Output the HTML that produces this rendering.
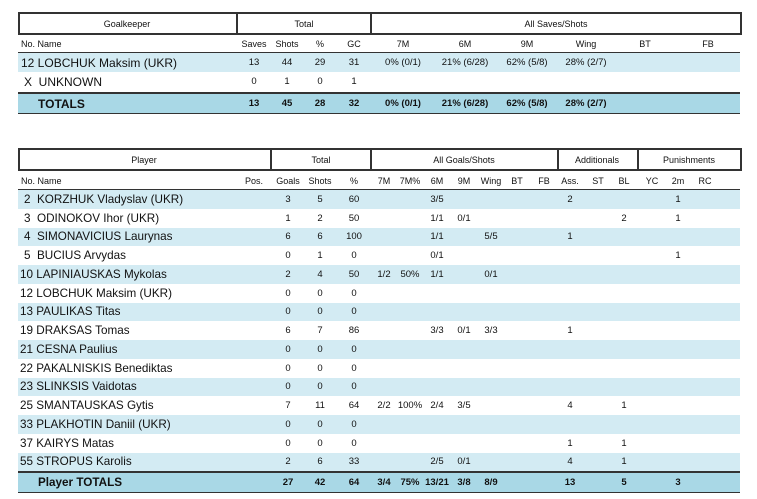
<!DOCTYPE html>
<html><head><meta charset="utf-8"><style>
body{margin:0;background:#fff;width:757px;height:499px;position:relative;overflow:hidden;font-family:"Liberation Sans",Arial,sans-serif;color:#111}
.a{position:absolute}
.c{position:absolute;transform:translateX(-50%);white-space:nowrap}
.hl{position:absolute;background:#333}
.row{position:absolute;left:18px;width:722px}
.row .c,.row .n{top:50%;margin-top:-7px;line-height:14px}
.n{position:absolute;white-space:nowrap;font-size:12px}
.t2 .n{font-size:11.7px}
.s{font-size:9.5px}
.b{font-weight:bold}
.h{font-size:9px;position:absolute;transform:translateX(-50%);white-space:nowrap}
</style></head><body>
<!-- Table 1 -->
<div class="a" style="left:18px;top:12px;width:720px;height:19px;border:2px solid #333;border-bottom-width:2px"></div>
<div class="hl" style="left:236px;top:12px;width:2px;height:21px"></div>
<div class="hl" style="left:370px;top:12px;width:2px;height:21px"></div>
<div class="h" style="left:127px;top:19px">Goalkeeper</div>
<div class="h" style="left:304px;top:19px">Total</div>
<div class="h" style="left:556px;top:19px">All Saves/Shots</div>
<div class="a s" style="left:21px;top:39px;font-size:9px">No. Name</div>
<div class="h" style="left:254px;top:39px">Saves</div><div class="h" style="left:287px;top:39px">Shots</div><div class="h" style="left:320px;top:39px">%</div><div class="h" style="left:354px;top:39px">GC</div>
<div class="h" style="left:403px;top:39px">7M</div><div class="h" style="left:465px;top:39px">6M</div><div class="h" style="left:527px;top:39px">9M</div><div class="h" style="left:586px;top:39px">Wing</div><div class="h" style="left:645px;top:39px">BT</div><div class="h" style="left:708px;top:39px">FB</div>
<div class="hl" style="left:18px;top:52px;width:722px;height:1px"></div>
<div class="row" style="top:53px;height:19px;background:#d3ebf3">
<span class="n" style="left:3px">12 LOBCHUK Maksim (UKR)</span>
<span class="c s" style="left:236px">13</span><span class="c s" style="left:269px">44</span><span class="c s" style="left:302px">29</span><span class="c s" style="left:336px">31</span>
<span class="c s" style="left:385px">0% (0/1)</span><span class="c s" style="left:447px">21% (6/28)</span><span class="c s" style="left:509px">62% (5/8)</span><span class="c s" style="left:568px">28% (2/7)</span></div>
<div class="row" style="top:72px;height:20px">
<span class="n" style="left:6px">X&nbsp; UNKNOWN</span>
<span class="c s" style="left:236px">0</span><span class="c s" style="left:269px">1</span><span class="c s" style="left:302px">0</span><span class="c s" style="left:336px">1</span></div>
<div class="hl" style="left:18px;top:92px;width:722px;height:2px"></div>
<div class="row b" style="top:94px;height:19px;background:#a9d8e6">
<span class="n" style="left:20px">TOTALS</span>
<span class="c s" style="left:236px">13</span><span class="c s" style="left:269px">45</span><span class="c s" style="left:302px">28</span><span class="c s" style="left:336px">32</span>
<span class="c s" style="left:385px">0% (0/1)</span><span class="c s" style="left:447px">21% (6/28)</span><span class="c s" style="left:509px">62% (5/8)</span><span class="c s" style="left:568px">28% (2/7)</span></div>
<div class="hl" style="left:18px;top:113px;width:722px;height:1px"></div>

<!-- Table 2 -->
<div class="t2">
<div class="a" style="left:18px;top:148px;width:720px;height:19px;border:2px solid #333"></div>
<div class="hl" style="left:270px;top:148px;width:2px;height:21px"></div>
<div class="hl" style="left:370px;top:148px;width:2px;height:21px"></div>
<div class="hl" style="left:557px;top:148px;width:2px;height:21px"></div>
<div class="hl" style="left:637px;top:148px;width:2px;height:21px"></div>
<div class="h" style="left:144px;top:155px">Player</div>
<div class="h" style="left:321px;top:155px">Total</div>
<div class="h" style="left:464px;top:155px">All Goals/Shots</div>
<div class="h" style="left:597px;top:155px">Additionals</div>
<div class="h" style="left:689px;top:155px">Punishments</div>
<div class="a" style="left:21px;top:176px;font-size:9px">No. Name</div>
<div class="h" style="left:254px;top:176px">Pos.</div><div class="h" style="left:288px;top:176px">Goals</div><div class="h" style="left:320px;top:176px">Shots</div><div class="h" style="left:354px;top:176px">%</div>
<div class="h" style="left:384px;top:176px">7M</div><div class="h" style="left:410px;top:176px">7M%</div><div class="h" style="left:437px;top:176px">6M</div><div class="h" style="left:464px;top:176px">9M</div><div class="h" style="left:491px;top:176px">Wing</div><div class="h" style="left:517px;top:176px">BT</div><div class="h" style="left:544px;top:176px">FB</div>
<div class="h" style="left:570px;top:176px">Ass.</div><div class="h" style="left:598px;top:176px">ST</div><div class="h" style="left:624px;top:176px">BL</div><div class="h" style="left:652px;top:176px">YC</div><div class="h" style="left:678px;top:176px">2m</div><div class="h" style="left:705px;top:176px">RC</div>
<div class="hl" style="left:18px;top:189px;width:722px;height:1px"></div>

<div class="row" style="top:190px;height:19px;background:#d3ebf3"><span class="n" style="left:6px">2&nbsp; KORZHUK Vladyslav (UKR)</span><span class="c s" style="left:270px">3</span><span class="c s" style="left:302px">5</span><span class="c s" style="left:336px">60</span><span class="c s" style="left:419px">3/5</span><span class="c s" style="left:552px">2</span><span class="c s" style="left:660px">1</span></div>
<div class="row" style="top:209px;height:19px"><span class="n" style="left:6px">3&nbsp; ODINOKOV Ihor (UKR)</span><span class="c s" style="left:270px">1</span><span class="c s" style="left:302px">2</span><span class="c s" style="left:336px">50</span><span class="c s" style="left:419px">1/1</span><span class="c s" style="left:446px">0/1</span><span class="c s" style="left:606px">2</span><span class="c s" style="left:660px">1</span></div>
<div class="row" style="top:228px;height:18px;background:#d3ebf3"><span class="n" style="left:6px">4&nbsp; SIMONAVICIUS Laurynas</span><span class="c s" style="left:270px">6</span><span class="c s" style="left:302px">6</span><span class="c s" style="left:336px">100</span><span class="c s" style="left:419px">1/1</span><span class="c s" style="left:473px">5/5</span><span class="c s" style="left:552px">1</span></div>
<div class="row" style="top:246px;height:19px"><span class="n" style="left:6px">5&nbsp; BUCIUS Arvydas</span><span class="c s" style="left:270px">0</span><span class="c s" style="left:302px">1</span><span class="c s" style="left:336px">0</span><span class="c s" style="left:419px">0/1</span><span class="c s" style="left:660px">1</span></div>
<div class="row" style="top:265px;height:19px;background:#d3ebf3"><span class="n" style="left:2px">10 LAPINIAUSKAS Mykolas</span><span class="c s" style="left:270px">2</span><span class="c s" style="left:302px">4</span><span class="c s" style="left:336px">50</span><span class="c s" style="left:366px">1/2</span><span class="c s" style="left:392px">50%</span><span class="c s" style="left:419px">1/1</span><span class="c s" style="left:473px">0/1</span></div>
<div class="row" style="top:284px;height:19px"><span class="n" style="left:2px">12 LOBCHUK Maksim (UKR)</span><span class="c s" style="left:270px">0</span><span class="c s" style="left:302px">0</span><span class="c s" style="left:336px">0</span></div>
<div class="row" style="top:303px;height:18px;background:#d3ebf3"><span class="n" style="left:2px">13 PAULIKAS Titas</span><span class="c s" style="left:270px">0</span><span class="c s" style="left:302px">0</span><span class="c s" style="left:336px">0</span></div>
<div class="row" style="top:321px;height:19px"><span class="n" style="left:2px">19 DRAKSAS Tomas</span><span class="c s" style="left:270px">6</span><span class="c s" style="left:302px">7</span><span class="c s" style="left:336px">86</span><span class="c s" style="left:419px">3/3</span><span class="c s" style="left:446px">0/1</span><span class="c s" style="left:473px">3/3</span><span class="c s" style="left:552px">1</span></div>
<div class="row" style="top:340px;height:19px;background:#d3ebf3"><span class="n" style="left:2px">21 CESNA Paulius</span><span class="c s" style="left:270px">0</span><span class="c s" style="left:302px">0</span><span class="c s" style="left:336px">0</span></div>
<div class="row" style="top:359px;height:19px"><span class="n" style="left:2px">22 PAKALNISKIS Benediktas</span><span class="c s" style="left:270px">0</span><span class="c s" style="left:302px">0</span><span class="c s" style="left:336px">0</span></div>
<div class="row" style="top:378px;height:18px;background:#d3ebf3"><span class="n" style="left:2px">23 SLINKSIS Vaidotas</span><span class="c s" style="left:270px">0</span><span class="c s" style="left:302px">0</span><span class="c s" style="left:336px">0</span></div>
<div class="row" style="top:396px;height:19px"><span class="n" style="left:2px">25 SMANTAUSKAS Gytis</span><span class="c s" style="left:270px">7</span><span class="c s" style="left:302px">11</span><span class="c s" style="left:336px">64</span><span class="c s" style="left:366px">2/2</span><span class="c s" style="left:392px">100%</span><span class="c s" style="left:419px">2/4</span><span class="c s" style="left:446px">3/5</span><span class="c s" style="left:552px">4</span><span class="c s" style="left:606px">1</span></div>
<div class="row" style="top:415px;height:19px;background:#d3ebf3"><span class="n" style="left:2px">33 PLAKHOTIN Daniil (UKR)</span><span class="c s" style="left:270px">0</span><span class="c s" style="left:302px">0</span><span class="c s" style="left:336px">0</span></div>
<div class="row" style="top:434px;height:19px"><span class="n" style="left:2px">37 KAIRYS Matas</span><span class="c s" style="left:270px">0</span><span class="c s" style="left:302px">0</span><span class="c s" style="left:336px">0</span><span class="c s" style="left:552px">1</span><span class="c s" style="left:606px">1</span></div>
<div class="row" style="top:453px;height:18px;background:#d3ebf3"><span class="n" style="left:2px">55 STROPUS Karolis</span><span class="c s" style="left:270px">2</span><span class="c s" style="left:302px">6</span><span class="c s" style="left:336px">33</span><span class="c s" style="left:419px">2/5</span><span class="c s" style="left:446px">0/1</span><span class="c s" style="left:552px">4</span><span class="c s" style="left:606px">1</span></div>
<div class="hl" style="left:18px;top:471px;width:722px;height:2px"></div>
<div class="row b" style="top:473px;height:19px;background:#a9d8e6"><span class="n" style="left:20px">Player TOTALS</span><span class="c s" style="left:270px">27</span><span class="c s" style="left:302px">42</span><span class="c s" style="left:336px">64</span><span class="c s" style="left:366px">3/4</span><span class="c s" style="left:392px">75%</span><span class="c s" style="left:419px">13/21</span><span class="c s" style="left:446px">3/8</span><span class="c s" style="left:473px">8/9</span><span class="c s" style="left:552px">13</span><span class="c s" style="left:606px">5</span><span class="c s" style="left:660px">3</span></div>
<div class="hl" style="left:18px;top:492px;width:722px;height:1px"></div>
</div>
</body></html>
